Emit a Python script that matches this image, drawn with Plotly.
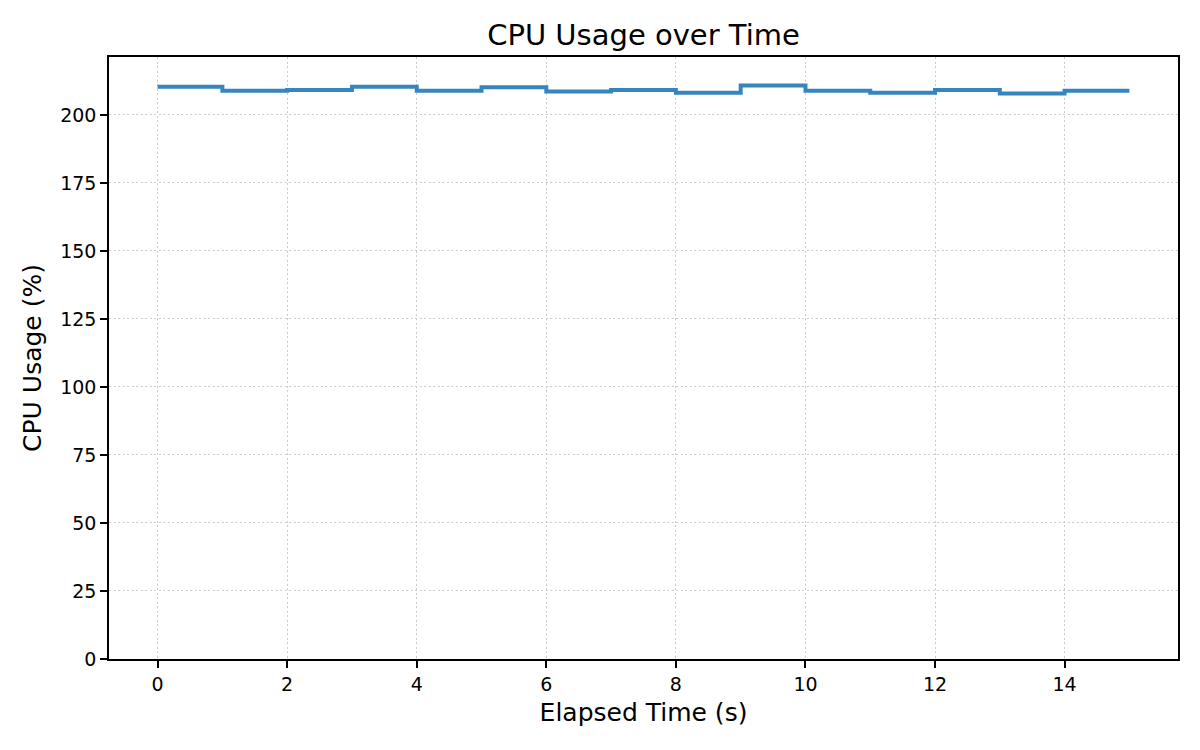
import plotly.graph_objects as go

elapsed_s = list(range(16))
cpu_usage = [210.4, 208.9, 209.2, 210.4, 208.9, 210.2, 208.6, 209.2,
             208.2, 210.8, 208.9, 208.2, 209.2, 207.9, 208.9, 208.9]
x_ticks = [0, 2, 4, 6, 8, 10, 12, 14]
y_ticks = [0, 25, 50, 75, 100, 125, 150, 175, 200]

FONT = "DejaVu Sans"
W, H = 1192, 742  # page body has an 8px margin

fig = go.Figure()
fig.add_trace(go.Scatter(
    x=elapsed_s, y=cpu_usage, mode="lines",
    line=dict(shape="hv", color="#3585bf", width=4),
    showlegend=False,
))

axis_common = dict(
    showline=True, linecolor="black", linewidth=1.6, mirror=True,
    ticks="outside", ticklen=7, tickwidth=1.6, tickcolor="black",
    showgrid=True, gridcolor="#cccccc", griddash="2px,2.5px", gridwidth=1.2,
    zeroline=False,
    tickfont=dict(family=FONT, size=19, color="black"),
)

fig.update_layout(
    width=W, height=H,
    paper_bgcolor="white", plot_bgcolor="white",
    margin=dict(l=101, r=22, t=49, b=91),
    title=dict(text="CPU Usage over Time", x=0.5, xref="paper", xanchor="center",
               y=1 - 27 / H, yanchor="middle", yref="container",
               font=dict(family=FONT, size=29, color="black")),
    xaxis=dict(range=[-0.75, 15.75], tickvals=x_ticks,
               title=dict(text="Elapsed Time (s)", standoff=10,
                          font=dict(family=FONT, size=25, color="black")),
               **axis_common),
    yaxis=dict(range=[0, 221.3], tickvals=y_ticks,
               title=dict(text="CPU Usage (%)", standoff=11,
                          font=dict(family=FONT, size=25, color="black")),
               **axis_common),
)

fig.write_html("out.html")
